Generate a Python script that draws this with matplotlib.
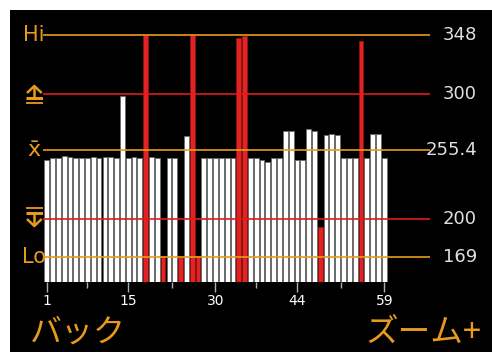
import matplotlib
matplotlib.use("Agg")
import matplotlib.pyplot as plt
from matplotlib.patches import Rectangle
from matplotlib.lines import Line2D
from matplotlib.transforms import blended_transform_factory

# data
sample_no = list(range(1, 60))
values = [247.2, 248.6, 248.6, 250.7, 249.4, 248.6, 248.6, 248.6, 249.4, 248.6,
          249.4, 249.4, 248.6, 298.5, 248.6, 249.4, 248.6, 348.0, 249.4, 248.6,
          170.0, 248.6, 248.6, 169.0, 266.8, 348.0, 170.0, 248.6, 248.6, 248.6,
          248.6, 248.6, 248.6, 345.6, 347.0, 248.6, 248.6, 247.2, 245.9, 248.6,
          248.6, 270.6, 270.6, 247.2, 247.2, 272.0, 270.6, 193.0, 267.1, 267.9,
          267.1, 248.6, 248.6, 248.6, 343.0, 248.6, 267.9, 267.9, 248.6]
hi_val, upper_lim, mean_val, lower_lim, lo_val = 348, 300, 255.4, 200, 169
ref_values = [hi_val, upper_lim, mean_val, lower_lim, lo_val]
ref_labels = ["348", "300", "255.4", "200", "169"]
tick_pos = [1, 15, 30, 44, 59]
minor_pos = [8, 22.5, 37, 51.5]

W, H = 492, 352
ORANGE = "#e89a1e"
RED = "#e41a1a"
BAR_RED = "#e52222"


def fx(x):
    return x / W


def fy(y):
    return 1 - y / H


fig = plt.figure(figsize=(W / 100, H / 100), dpi=100, facecolor="white")
fig.patches.append(Rectangle((fx(10), 0), 1 - fx(10), fy(10), transform=fig.transFigure,
                             facecolor="black", edgecolor="none", zorder=-5))

# axes box (pixel positions from the screen)
px_per_unit = 1.2436
px_per_bar = 5.82
ax_left, ax_right, ax_top, ax_bot = 43.3, 430, 30, 281.7
ax = fig.add_axes([fx(ax_left), fy(ax_bot), fx(ax_right - ax_left), (ax_bot - ax_top) / H])
ax.set_zorder(2)
ax.set_facecolor("black")
ax.set_ylim(hi_val - (ax_bot - 34.7) / px_per_unit, hi_val + (34.7 - ax_top) / px_per_unit)
ax.set_xlim(1 + (ax_left - 46.7) / px_per_bar, 1 + (ax_right - 46.7) / px_per_bar)
bottom = ax.get_ylim()[0]

colors = [BAR_RED if (v > upper_lim or v < lower_lim) else "white" for v in values]
edges = ["#8a1515" if c == BAR_RED else "#6a6a6a" for c in colors]
ax.bar(sample_no, [v - bottom for v in values], bottom=bottom, width=0.82,
       color=colors, edgecolor=edges, linewidth=0.6, zorder=2)

line_cols = [ORANGE, RED, ORANGE, RED, ORANGE]
for v, c in zip(ref_values, line_cols):
    ax.axhline(v, color=c, lw=1.2, zorder=3)

for s in ax.spines.values():
    s.set_visible(False)
ax.set_yticks([])
ax.set_xticks(tick_pos)
ax.set_xticklabels([str(t) for t in tick_pos])
ax.set_xticks(minor_pos, minor=True)
ax.tick_params(axis="x", which="major", length=7.5, width=1, color="#b0b0b0",
               labelcolor="white", labelsize=10, pad=1.5)
ax.tick_params(axis="x", which="minor", length=4.5, width=1, color="#b0b0b0")

# right side value labels
tr = blended_transform_factory(fig.transFigure, ax.transData)
for v, lab in zip(ref_values, ref_labels):
    fig.text(fx(477), v, lab, transform=tr, ha="right", va="center",
             color="#e0e0e0", fontsize=13)

# left side labels
fig.text(fx(34), hi_val, "Hi", transform=tr, ha="center", va="center", color=ORANGE, fontsize=15)
fig.text(fx(34), lo_val, "Lo", transform=tr, ha="center", va="center", color=ORANGE, fontsize=15)
fig.text(fx(33.5), mean_val, "x\u0304", transform=tr, ha="center", va="center", color=ORANGE, fontsize=16)


# limit icons (arrow to bars)
def seg(xs, ys, lw):
    fig.add_artist(Line2D([fx(x) for x in xs], [fy(y) for y in ys], color=ORANGE, lw=lw,
                          transform=fig.transFigure, solid_capstyle="butt"))


seg([27, 34.3, 41.7], [93, 86, 93], 1.8)
seg([34.3, 34.3], [86, 97], 1.8)
seg([26, 43], [98, 98], 2.2)
seg([26, 43], [103, 103], 1.3)

seg([26, 43], [208, 208], 1.3)
seg([26, 43], [213, 213], 2.2)
seg([34.3, 34.3], [213, 225], 1.8)
seg([27, 34.3, 41.7], [219, 226, 219], 1.8)

# soft keys
fig.text(fx(78), fy(333), "バック", family=["Noto Sans CJK JP", "DejaVu Sans"],
         ha="center", va="center", color=ORANGE, fontsize=23)
fig.text(fx(423), fy(333), "ズーム+", family=["Noto Sans CJK JP", "DejaVu Sans"],
         ha="center", va="center", color=ORANGE, fontsize=23.5)

fig.savefig("out.png", dpi=100, facecolor="white")
